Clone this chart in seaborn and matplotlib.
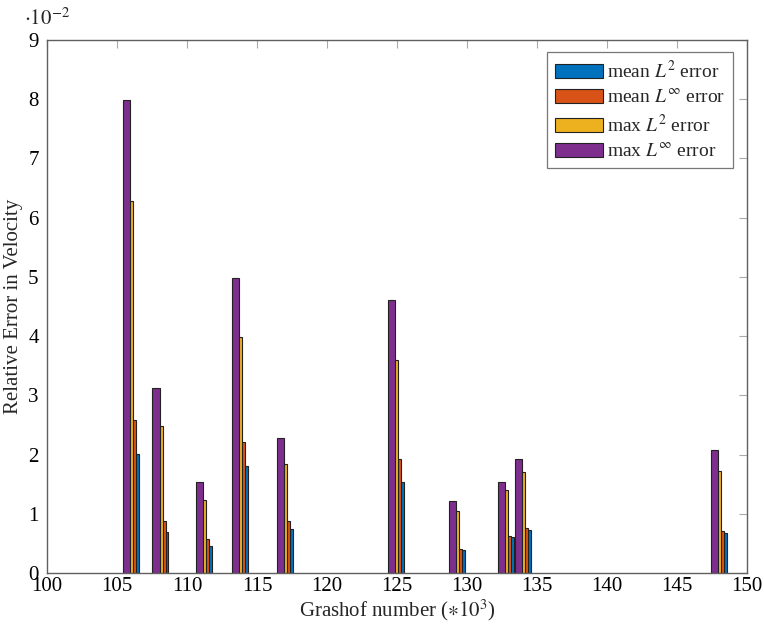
import pandas as pd
import numpy as np
import matplotlib
matplotlib.use('Agg')
import matplotlib.pyplot as plt
import seaborn as sns

# Grashof numbers (*10^3) and relative velocity errors (*10^-2)
grashof = [106.0, 108.1, 111.2, 113.8, 117.0, 124.9, 129.3, 132.8, 134.0, 148.0]
mean_l2 = [2.01, 0.70, 0.46, 1.81, 0.74, 1.53, 0.39, 0.60, 0.72, 0.67]
mean_linf = [2.58, 0.88, 0.57, 2.22, 0.87, 1.92, 0.41, 0.62, 0.76, 0.71]
max_l2 = [6.28, 2.49, 1.23, 3.99, 1.84, 3.59, 1.04, 1.40, 1.70, 1.73]
max_linf = [7.98, 3.13, 1.53, 4.98, 2.28, 4.61, 1.22, 1.53, 1.93, 2.07]

series_names = [r'mean $L^2$ error', r'mean $L^\infty$ error',
                r'max $L^2$ error', r'max $L^\infty$ error']
series_values = [mean_l2, mean_linf, max_l2, max_linf]
colors = ['#0072BD', '#D95319', '#EDB120', '#7E2F8E']

df = pd.DataFrame({
    'grashof': np.tile(grashof, len(series_names)),
    'error': np.concatenate(series_values),
    'series': np.repeat(series_names, len(grashof)),
})

sns.set_style('white')
plt.rcParams['font.family'] = ['Liberation Serif', 'DejaVu Serif']
plt.rcParams['mathtext.fontset'] = 'stix'

fig = plt.figure(figsize=(7.64, 6.25), dpi=100)
ax = fig.add_axes([47 / 764, 52 / 625, 700 / 764, 533 / 625])

sns.barplot(data=df, x='grashof', y='error', hue='series', hue_order=series_names,
            palette=colors, saturation=1, native_scale=True, dodge=True, errorbar=None,
            edgecolor='#222222', linewidth=0.8, ax=ax, legend=True)

# overlapping pgfplots-style bars: same width, small shift between series
bar_w = 0.52
shift = 0.21
offsets = [1.5 * shift, 0.5 * shift, -0.5 * shift, -1.5 * shift]
for k, cont in enumerate(ax.containers):
    for c, patch in zip(sorted(grashof), cont.patches):
        patch.set_width(bar_w)
        patch.set_x(c + offsets[k] - bar_w / 2)

ax.set_xlim(100, 150)
ax.set_ylim(0, 9)
ax.set_xticks(np.arange(100, 151, 5))
ax.set_yticks(np.arange(0, 10, 1))
ax.tick_params(direction='in', length=6, width=0.8, color='#aaaaaa',
               top=True, right=True, labelsize=15, labelcolor='black')
ax.tick_params(axis='y', pad=6)
ax.tick_params(axis='x', pad=3)
for sp in ax.spines.values():
    sp.set_color('#606060')
    sp.set_linewidth(1.0)

ax.set_xlabel(r'Grashof number ($\ast10^3$)', fontsize=15, labelpad=1)
ax.set_ylabel('Relative Error in Velocity', fontsize=15)
ax.yaxis.set_label_coords(-0.034, 0.5)
ax.text(0.0, 1.02, r'$\cdot10^{-2}$', transform=ax.transAxes,
        ha='center', va='bottom', fontsize=15)

handles, labels = ax.get_legend_handles_labels()
leg = ax.legend(handles, labels, loc='upper right', bbox_to_anchor=(0.98, 0.977),
                fontsize=14, frameon=True, fancybox=False, edgecolor='#555555',
                handlelength=2.5, handleheight=0.75, handletextpad=0.2,
                labelspacing=0.35, borderpad=0.4, borderaxespad=0)
leg.get_frame().set_linewidth(0.9)

plt.savefig('out.png', dpi=100)
plt.close()
